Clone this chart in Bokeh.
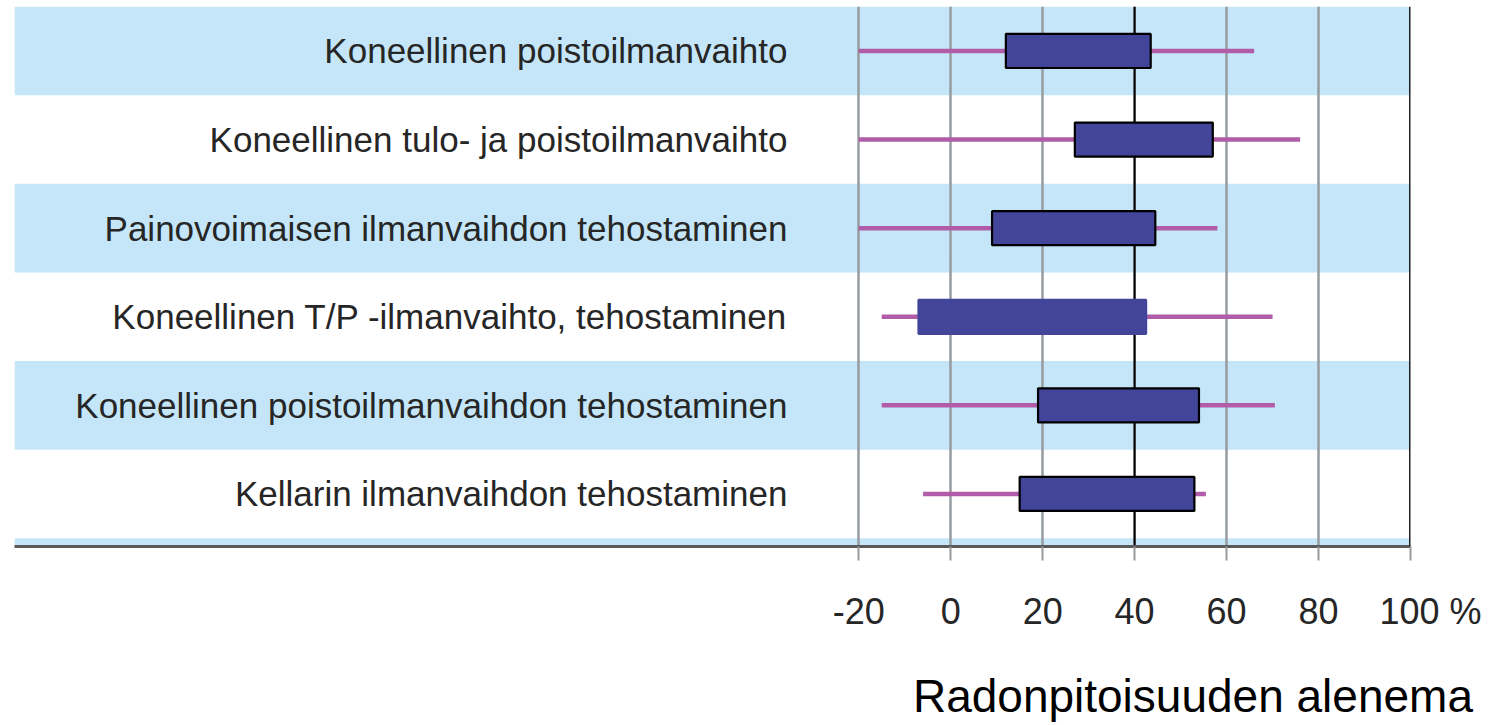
from bokeh.plotting import figure
from bokeh.models import ColumnDataSource, Range1d, FixedTicker, Span, Div
from bokeh.layouts import column
from bokeh.core.properties import value
from bokeh.embed import file_html
from bokeh.resources import INLINE

categories = [
    "Koneellinen poistoilmanvaihto",
    "Koneellinen tulo- ja poistoilmanvaihto",
    "Painovoimaisen ilmanvaihdon tehostaminen",
    "Koneellinen T/P -ilmanvaihto, tehostaminen",
    "Koneellinen poistoilmanvaihdon tehostaminen",
    "Kellarin ilmanvaihdon tehostaminen",
]
whisker_low = [-20, -20, -20, -15, -15, -6]
box_low = [12, 27, 9, -7, 19, 15]
box_high = [43.5, 57, 44.5, 42.5, 54, 53]
whisker_high = [66, 76, 58, 70, 70.5, 55.5]
outlined = [True, True, True, False, True, True]
ticks = [-20, 0, 20, 40, 60, 80, 100]
tick_labels = ["-20", "0", "20", "40", "60", "80", "\u2007\u2007100 %"]
axis_title = "Radonpitoisuuden alenema"

FONT = "Liberation Sans"
n = len(categories)
ys = [n - 1 - i for i in range(n)]

src = ColumnDataSource(dict(
    y=ys, cat=categories, wl=whisker_low, wh=whisker_high,
    bl=box_low, bh=box_high,
    bc=[(lo + hi) / 2 for lo, hi in zip(box_low, box_high)],
    bw=[hi - lo for lo, hi in zip(box_low, box_high)],
    lc=["black" if o else "#42459A" for o in outlined],
))

y_start, y_end = -0.593, n - 0.498
x_start, x_end = -203.6, 100

p = figure(width=1494, height=640, output_backend="svg", toolbar_location=None,
           x_range=Range1d(x_start, x_end), y_range=Range1d(y_start, y_end),
           min_border_left=14, min_border_right=84, min_border_top=6,
           min_border_bottom=94)
p.outline_line_color = None
p.background_fill_color = "white"

# alternating bands
band_rows = [y for y in range(-1, n) if (n - 1 - y) % 2 == 0]
p.rect(x=(x_start + x_end) / 2, y=band_rows, width=(x_end - x_start), height=1,
       fill_color="#C5E6F8", line_color=None, level="image")

# grid
p.xaxis.ticker = FixedTicker(ticks=ticks)
p.xgrid.ticker = FixedTicker(ticks=ticks)
p.xgrid.grid_line_color = "#969ca0"
p.xgrid.grid_line_width = 2.5
p.ygrid.visible = False
p.add_layout(Span(location=40, dimension="height", line_color="black",
                  line_width=2, level="underlay"))

# whiskers and boxes
p.segment(x0="wl", x1="wh", y0="y", y1="y", source=src,
          line_color="#B05CA8", line_width=4.5)
p.rect(x="bc", y="y", width="bw", height=0.384, source=src,
       fill_color="#42459A", line_color="lc", line_width=2.2)

# category labels
p.text(x=-35.5, y="y", text="cat", source=src, text_align="right",
       text_baseline="middle", text_font=value(FONT), text_font_size="35px",
       text_color="#262626")

# right border
p.add_layout(Span(location=100, dimension="height", line_color="#222222",
                  line_width=3))

# axes
p.yaxis.visible = False
ax = p.xaxis[0]
ax.axis_line_color = "#5a5a5a"
ax.axis_line_width = 3
ax.major_tick_line_color = "#999999"
ax.major_tick_line_width = 2
ax.major_tick_in = 0
ax.major_tick_out = 14
ax.minor_tick_line_color = None
ax.major_label_overrides = {t: s for t, s in zip(ticks, tick_labels)}
ax.major_label_text_font = FONT
ax.major_label_text_font_size = "36px"
ax.major_label_text_color = "#262626"
ax.major_label_standoff = 30

title_div = Div(
    text=('<div style="width:1468px;text-align:right;font-family:\'Liberation Sans\','
          'Arial,sans-serif;font-size:46px;line-height:46px;color:black;'
          'padding-top:28px;white-space:nowrap;">' + axis_title + '</div>'),
    width=1494, height=85)

layout = column(p, title_div, spacing=0)
open("out.html", "w").write(file_html(layout, INLINE))
